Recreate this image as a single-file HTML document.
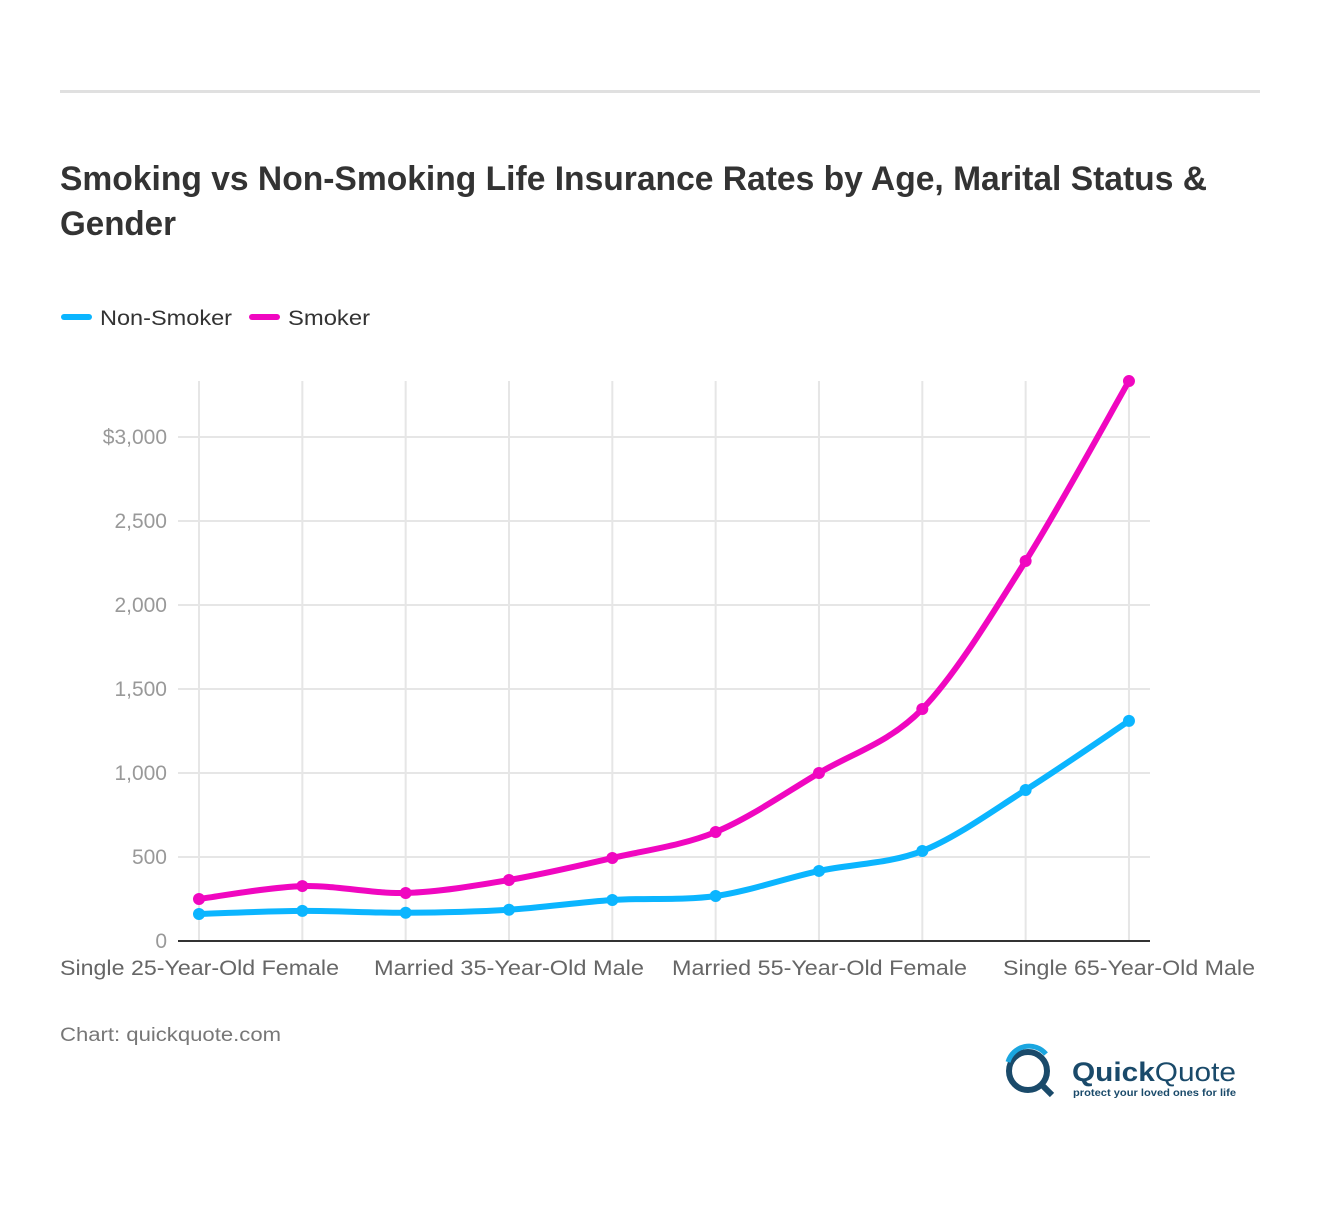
<!DOCTYPE html>
<html><head><meta charset="utf-8"><style>
body{margin:0;background:#fff;width:1320px;height:1202px;overflow:hidden;font-family:"Liberation Sans",sans-serif;}
</style></head><body>
<svg id="s" width="1320" height="1202" xmlns="http://www.w3.org/2000/svg" font-family="Liberation Sans, sans-serif">
<rect x="60" y="90" width="1200" height="3" fill="#e0e0e0"/>
<text x="60" y="190" font-size="34" font-weight="bold" fill="#333" textLength="1147" lengthAdjust="spacingAndGlyphs">Smoking vs Non-Smoking Life Insurance Rates by Age, Marital Status &amp;</text>
<text x="60" y="235" font-size="34" font-weight="bold" fill="#333" textLength="116" lengthAdjust="spacingAndGlyphs">Gender</text>
<line x1="64" y1="317" x2="89" y2="317" stroke="#0bb5ff" stroke-width="6" stroke-linecap="round"/>
<text x="100" y="325" font-size="21" fill="#333" textLength="132" lengthAdjust="spacingAndGlyphs">Non-Smoker</text>
<line x1="252" y1="317" x2="277" y2="317" stroke="#f007c0" stroke-width="6" stroke-linecap="round"/>
<text x="288" y="325" font-size="21" fill="#333" textLength="82" lengthAdjust="spacingAndGlyphs">Smoker</text>
<g id="grid" stroke="#e6e6e6" stroke-width="2"></g>
<g font-size="21" fill="#999" text-anchor="end">
<text x="167" y="948">0</text><text x="167" y="864">500</text><text x="167" y="780">1,000</text>
<text x="167" y="696">1,500</text><text x="167" y="612">2,000</text><text x="167" y="528">2,500</text><text x="167" y="444">$3,000</text>
</g>
<line x1="178" y1="941" x2="1150" y2="941" stroke="#333" stroke-width="2"/>
<g font-size="21" fill="#666">
<text x="60" y="975" textLength="279" lengthAdjust="spacingAndGlyphs">Single 25-Year-Old Female</text><text x="374" y="975" textLength="270" lengthAdjust="spacingAndGlyphs">Married 35-Year-Old Male</text>
<text x="672" y="975" textLength="295" lengthAdjust="spacingAndGlyphs">Married 55-Year-Old Female</text><text x="1003" y="975" textLength="252" lengthAdjust="spacingAndGlyphs">Single 65-Year-Old Male</text>
</g>
<g id="series"></g>
<text x="60" y="1041" font-size="19" fill="#777" textLength="221" lengthAdjust="spacingAndGlyphs">Chart: quickquote.com</text>
<circle cx="1028" cy="1071" r="19" fill="none" stroke="#1a4a6a" stroke-width="6"/>
<path d="M1008 1062 A22 22 0 0 1 1046 1054" fill="none" stroke="#1aa6e0" stroke-width="5"/>
<line x1="1040" y1="1083" x2="1052" y2="1095" stroke="#1a4a6a" stroke-width="6"/>
<text x="1072" y="1081" font-size="27" font-weight="bold" fill="#1a4a6a" textLength="164" lengthAdjust="spacingAndGlyphs">Quick<tspan font-weight="normal">Quote</tspan></text>
<text x="1073" y="1096" font-size="10.5" font-weight="bold" fill="#1a4a6a" textLength="163" lengthAdjust="spacingAndGlyphs">protect your loved ones for life</text>
</svg>
<script>
var ns="http://www.w3.org/2000/svg";
var xs=[],g=document.getElementById('grid');
for(var i=0;i<10;i++)xs.push(199+i*103.33);
xs.forEach(function(x){var l=document.createElementNS(ns,'line');l.setAttribute('x1',x);l.setAttribute('x2',x);l.setAttribute('y1',381);l.setAttribute('y2',941);g.appendChild(l);});
[857,773,689,605,521,437].forEach(function(y){var l=document.createElementNS(ns,'line');l.setAttribute('x1',178);l.setAttribute('x2',1150);l.setAttribute('y1',y);l.setAttribute('y2',y);g.appendChild(l);});
function Y(v){return 941-v*0.168;}
var data=[["#0bb5ff",[161,179,168,186,244,268,417,536,899,1310]],["#f007c0",[250,327,286,363,494,649,1000,1381,2262,3333]]];
var sg=document.getElementById('series');
data.forEach(function(d){
 var p=d[1].map(function(v,i){return [xs[i],Y(v)];});
 var s="M"+p[0][0]+" "+p[0][1];
 for(var i=0;i<p.length-1;i++){
  var p0=p[i-1]||p[i],p1=p[i],p2=p[i+1],p3=p[i+2]||p2,t=0.16;
  s+=" C"+(p1[0]+(p2[0]-p0[0])*t)+" "+(p1[1]+(p2[1]-p0[1])*t)+" "+(p2[0]-(p3[0]-p1[0])*t)+" "+(p2[1]-(p3[1]-p1[1])*t)+" "+p2[0]+" "+p2[1];
 }
 var path=document.createElementNS(ns,'path');path.setAttribute('d',s);path.setAttribute('fill','none');path.setAttribute('stroke',d[0]);path.setAttribute('stroke-width',6);sg.appendChild(path);
 p.forEach(function(q){var c=document.createElementNS(ns,'circle');c.setAttribute('cx',q[0]);c.setAttribute('cy',q[1]);c.setAttribute('r',6);c.setAttribute('fill',d[0]);sg.appendChild(c);});
});
</script>
</body></html>
